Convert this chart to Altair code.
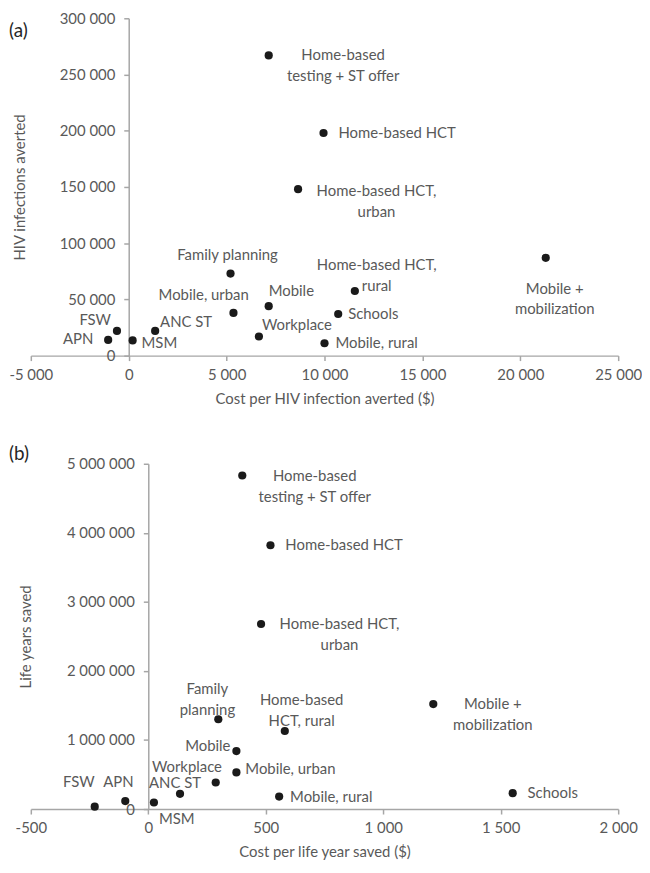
import altair as alt
import pandas as pd

# ---------------- data ----------------
interventions = [
    "Home-based testing + ST offer", "Home-based HCT", "Home-based HCT, urban",
    "Family planning", "Mobile, urban", "Mobile", "Workplace", "Mobile, rural",
    "FSW", "APN", "MSM", "ANC ST", "Home-based HCT, rural", "Schools",
    "Mobile + mobilization",
]
labels_a = [
    "Home-based\ntesting + ST offer", "Home-based HCT", "Home-based HCT,\nurban",
    "Family planning", "Mobile, urban", "Mobile", "Workplace", "Mobile, rural",
    "FSW", "APN", "MSM", "ANC ST", "Home-based HCT,\nrural", "Schools",
    "Mobile +\nmobilization",
]
labels_b = [
    "Home-based\ntesting + ST offer", "Home-based HCT", "Home-based HCT,\nurban",
    "Family\nplanning", "Mobile, urban", "Mobile", "Workplace", "Mobile, rural",
    "FSW", "APN", "MSM", "ANC ST", "Home-based\nHCT, rural", "Schools",
    "Mobile +\nmobilization",
]
cost_per_infection = [7150, 9950, 8650, 5200, 5350, 7150, 6650, 10000,
                      -600, -1050, 200, 1350, 11550, 10700, 21300]
infections_averted = [267000, 198000, 148000, 73000, 38000, 44000, 17000, 11000,
                      22000, 14000, 13500, 22000, 57500, 37000, 87000]
cost_per_lys = [400, 520, 480, 298, 375, 375, 287, 557,
                -228, -98, 24, 135, 581, 1551, 1213]
life_years_saved = [4830000, 3820000, 2680000, 1300000, 530000, 840000, 385000, 180000,
                    35000, 115000, 95000, 220000, 1130000, 230000, 1520000]

x_ticks_a = [-5000, 0, 5000, 10000, 15000, 20000, 25000]
y_ticks_a = [0, 50000, 100000, 150000, 200000, 250000, 300000]
x_ticks_b = [-500, 0, 500, 1000, 1500, 2000]
y_ticks_b = [0, 1000000, 2000000, 3000000, 4000000, 5000000]

# ---------------- label placement (style, pixels) ----------------
place_a = [("center", 75, 0), ("left", 15, 0), ("center", 79, 2), ("center", -3, -19),
           ("center", -30, -18), ("left", 0, -15), ("left", 3, -12), ("left", 11, 0),
           ("right", -6, -11), ("right", -15, -1), ("left", 9, 3), ("left", 5, -9),
           ("center", 22, -26), ("left", 10, 0), ("center", 9, 31)]
place_b = [("center", 73, 1), ("left", 15, 0), ("center", 79, 0), ("center", -11, -30),
           ("left", 9, -3), ("right", -6, -5), ("center", -29, -16), ("left", 11, 0),
           ("center", -16, -25), ("center", -7, -19), ("left", 5, 17), ("center", -5, -11),
           ("center", 17, -31), ("left", 15, 0), ("center", 60, 0)]

FONT = "Lato"
TXT = "#595959"
AXC = "#a6a6a6"
LABEL_EXPR = "replace(replace(format(datum.value, ','), regexp(',', 'g'), ' '), '\u2212', '-')"

W_A, H_A = 592, 340
W_B, H_B = 592, 348


def panel(xs, ys, labels, place, xdom, ydom, xticks, yticks, xtitle, ytitle,
          w, h, tag, tag_x, tag_y, ytitle_x):
    df = pd.DataFrame({"idx": list(range(len(xs))), "name": interventions,
                       "label": labels, "x": xs, "y": ys})
    frac0 = (0 - xdom[0]) / (xdom[1] - xdom[0])
    xenc = alt.X("x:Q", scale=alt.Scale(domain=xdom, nice=False, zero=False),
                 axis=alt.Axis(values=xticks, labelExpr=LABEL_EXPR, title=xtitle,
                               grid=False, labelFlush=False, labelOverlap=False,
                               labelPadding=7, titlePadding=9))
    yenc = alt.Y("y:Q", scale=alt.Scale(domain=ydom, nice=False),
                 axis=alt.Axis(values=yticks, labelExpr=LABEL_EXPR, title=ytitle,
                               grid=False, labelFlush=False, labelOverlap=False,
                               offset=-w * frac0, labelPadding=9,
                               titleX=ytitle_x - w * frac0, titleBaseline="middle"))
    pts = alt.Chart(df).mark_circle(size=68, color="#1a1a1a", opacity=1).encode(
        x=xenc, y=yenc, tooltip=["name:N"])
    layers = [pts]
    for i, (al, dx, dy) in enumerate(place):
        t = alt.Chart(df).transform_filter(alt.datum.idx == i).mark_text(
            align=al, dx=dx, dy=dy, baseline="middle", lineBreak="\n",
            font=FONT, fontSize=15, color=TXT, lineHeight=21).encode(
            x=alt.X("x:Q", scale=alt.Scale(domain=xdom, nice=False, zero=False)),
            y=alt.Y("y:Q", scale=alt.Scale(domain=ydom, nice=False)),
            text="label:N")
        layers.append(t)
    tag_df = pd.DataFrame({"t": [tag]})
    tg = alt.Chart(tag_df).mark_text(align="left", baseline="middle", font=FONT,
                                     fontSize=19, color="#262626").encode(
        x=alt.value(tag_x), y=alt.value(tag_y), text="t:N")
    layers.append(tg)
    return alt.layer(*layers).properties(width=w, height=h)


pa = panel(cost_per_infection, infections_averted, labels_a, place_a,
           [-5000, 25000], [0, 300000], x_ticks_a, y_ticks_a,
           "Cost per HIV infection averted ($)", "HIV infections averted",
           W_A, H_A, "(a)", -22, 13, -11)
pb = panel(cost_per_lys, life_years_saved, labels_b, place_b,
           [-500, 2000], [0, 5000000], x_ticks_b, y_ticks_b,
           "Cost per life year saved ($)", "Life years saved",
           W_B, H_B, "(b)", -22, -10, -5)

chart = alt.concat(pa, pb, columns=1, spacing=39).properties(
    padding=0, background="white"
).configure_axis(
    domainColor=AXC, domainWidth=1.5, tickColor=AXC, tickWidth=1.5, tickSize=5,
    labelFont=FONT, labelFontSize=15, labelColor=TXT,
    titleFont=FONT, titleFontSize=15, titleFontWeight="normal", titleColor=TXT,
).configure_view(stroke=None)

chart.save("out.html", embed_options={"renderer": "svg", "actions": False})
